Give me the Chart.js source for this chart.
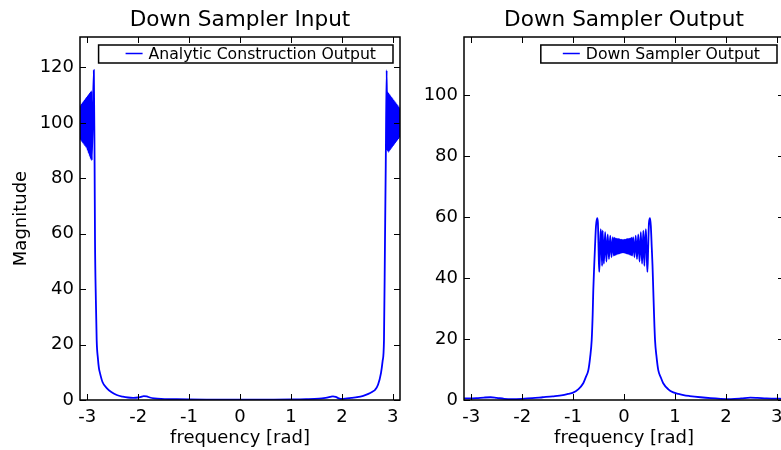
<!DOCTYPE html>
<html><head><meta charset="utf-8">
<script src="https://cdn.jsdelivr.net/npm/chart.js@4.4.1/dist/chart.umd.min.js"></script>
<style>
html,body{margin:0;padding:0;width:781px;height:450px;overflow:hidden;background:#fff;}
canvas{position:absolute;top:0;}
#c1{left:0;}
#c2{left:404px;}
</style></head><body>
<canvas id="c1" width="412" height="450"></canvas>
<canvas id="c2" width="392" height="450"></canvas>
<script>
// ---------- data ----------
const titles = ['Down Sampler Input', 'Down Sampler Output'];
const seriesLabels = ['Analytic Construction Output', 'Down Sampler Output'];
const xTicks = [-3, -2, -1, 0, 1, 2, 3];
const yTicksIn = [0, 20, 40, 60, 80, 100, 120];
const yTicksOut = [0, 20, 40, 60, 80, 100];
const xRange = [-3.1416, 3.1416];
const yMaxIn = 131;
const yMaxOut = 119;

const freqIn = [-3.1416,-3.13,-3.12,-3.11,-3.10,-3.09,-3.08,-3.07,-3.06,-3.05,-3.04,-3.03,-3.02,-3.01,-3.00,-2.99,-2.98,-2.97,-2.96,-2.95,-2.94,-2.93,-2.92,-2.91,
-2.87,-2.855,-2.847,-2.83,-2.814,-2.79,-2.77,-2.749,-2.70,-2.617,-2.52,-2.42,-2.30,-2.20,-2.10,-2.00,-1.95,-1.89,-1.83,-1.77,-1.68,-1.55,-1.30,-1.00,-0.50,0.00,0.50,1.00,1.30,1.55,1.68,1.77,1.826,1.88,1.94,2.00,2.10,2.20,2.30,2.42,2.52,2.60,2.65,2.71,2.768,2.80,2.827,2.847,2.862,2.88,
2.895,2.905,2.915,2.925,2.935,2.945,2.955,2.965,2.975,2.985,2.995,3.005,3.015,3.025,3.035,3.045,3.055,3.065,3.075,3.085,3.095,3.105,3.115,3.125,3.135,3.1416];
const magIn = [106,94,106.5,93.5,107,93,107.5,92.5,108,92,108.5,91.5,109,91,109.5,90,110,89,110.5,88,111,87,111.5,86.5,
119,85,57.7,36,21.6,15,11.5,9.7,6.5,4.3,2.8,1.8,1.2,0.9,0.8,0.9,1.1,1.4,1.3,0.9,0.6,0.4,0.3,0.2,0.15,0.1,0.15,0.2,0.3,0.5,0.8,1.1,1.3,1.1,0.6,0.4,0.6,0.8,1.0,1.5,2.2,3.0,3.6,5.5,9.7,14,21.6,57.7,85,119,
90,111,89.5,110.5,90,110,90.5,109.5,91,109,91.5,108.5,92,108,92.5,107.5,93,107,93.5,106.5,94,106,94.5,105.5,95,104.5];

const freqOut = [-3.1416,-2.9,-2.75,-2.62,-2.5,-2.35,-2.2,-2.0,-1.8,-1.6,-1.4,-1.2,-1.1,-1.0,-0.9,-0.80,-0.75,-0.70,-0.665,-0.634,-0.615,-0.603,-0.585,-0.57,-0.55,-0.526,-0.512,-0.50,-0.487,-0.472,-0.458,-0.443,-0.43,
-0.42,-0.395,-0.37,-0.345,-0.32,-0.295,-0.27,-0.245,-0.22,-0.20,-0.19,-0.18,-0.17,-0.16,-0.15,-0.14,-0.13,-0.12,-0.11,-0.10,-0.09,-0.08,-0.07,-0.06,-0.05,-0.04,-0.03,-0.02,
-0.01,0.00,0.01,0.02,0.03,0.04,0.05,0.06,0.07,0.08,0.09,0.10,0.11,0.12,0.13,0.14,0.15,0.16,0.18,0.205,0.23,0.255,0.28,0.305,0.33,0.355,0.38,
0.40,0.415,0.43,0.445,0.46,0.475,0.49,0.511,0.527,0.545,0.56,0.575,0.59,0.609,0.64,0.673,0.72,0.77,0.87,0.968,1.07,1.17,1.29,1.5,1.7,1.9,2.1,2.3,2.48,2.62,2.8,3.1416];
const magOut = [0.5,0.6,0.8,0.9,0.7,0.4,0.3,0.4,0.6,0.9,1.2,1.6,2.0,2.4,3.5,5.5,7.5,9.8,14,19.7,28,36,44,50,57,59.6,58,50,42,48,56,52,44,
55.5,44.7,55.0,45.4,54.3,46.2,53.9,46.8,53.4,47.3,53.2,47.5,53.0,47.6,52.9,47.8,52.8,47.9,52.8,48.0,52.7,48.1,52.6,48.2,52.6,48.3,52.5,48.4,
52.5,48.3,52.6,48.2,52.6,48.1,52.7,48.0,52.8,47.9,52.8,47.8,52.9,47.6,53.0,47.5,53.2,47.3,53.4,46.8,53.9,46.2,54.3,45.4,55.0,44.7,55.5,
44,52,56,48,42,50,58,59.6,57,50,44,36,28,19.7,14,9.8,7.5,5.5,3.5,2.5,2.0,1.6,1.3,0.9,0.6,0.4,0.3,0.5,0.8,0.7,0.5,0.4];

// ---------- rendering ----------
Chart.defaults.font.family = '"DejaVu Sans", sans-serif';
Chart.defaults.color = '#000';

const decor = {
  id: 'decor',
  afterDraw(chart, args, opts) {
    const ctx = chart.ctx, a = chart.chartArea, sx = chart.scales.x, sy = chart.scales.y;
    ctx.save();
    ctx.strokeStyle = '#000';
    ctx.lineWidth = 1;
    const L = 6;
    ctx.beginPath();
    sx.ticks.forEach(t => {
      const px = Math.round(sx.getPixelForValue(t.value)) + 0.5;
      ctx.moveTo(px, a.bottom); ctx.lineTo(px, a.bottom - L);
      ctx.moveTo(px, a.top); ctx.lineTo(px, a.top + L);
    });
    sy.ticks.forEach(t => {
      const py = Math.round(sy.getPixelForValue(t.value)) + 0.5;
      ctx.moveTo(a.left, py); ctx.lineTo(a.left + L, py);
      ctx.moveTo(a.right, py); ctx.lineTo(a.right - L, py);
    });
    ctx.stroke();
    ctx.lineWidth = 1.5;
    ctx.strokeRect(a.left, a.top, a.right - a.left, a.bottom - a.top);
    // title
    ctx.fillStyle = '#000';
    ctx.font = '21.6px "DejaVu Sans"';
    ctx.textAlign = 'center';
    ctx.textBaseline = 'alphabetic';
    ctx.fillText(opts.title, (a.left + a.right) / 2, 26);
    // legend
    const ds = chart.data.datasets[0];
    ctx.font = '15.7px "DejaVu Sans"';
    const tw = ctx.measureText(ds.label).width;
    const boxR = a.right - 7, boxT = a.top + 8, boxB = a.top + 26;
    const textEnd = boxR - 17, textStart = textEnd - tw;
    const lineR = textStart - 6, lineL = lineR - 17, boxL = lineL - opts.legendLeftPad;
    ctx.fillStyle = '#fff';
    ctx.fillRect(boxL, boxT, boxR - boxL, boxB - boxT);
    ctx.strokeStyle = '#000';
    ctx.lineWidth = 1.5;
    ctx.strokeRect(boxL, boxT, boxR - boxL, boxB - boxT);
    ctx.strokeStyle = ds.borderColor;
    ctx.lineWidth = 1.5;
    ctx.beginPath();
    ctx.moveTo(lineL, boxT + 8.5); ctx.lineTo(lineR, boxT + 8.5);
    ctx.stroke();
    ctx.fillStyle = '#000';
    ctx.textAlign = 'left';
    ctx.fillText(ds.label, textStart, boxT + 14);
    ctx.restore();
  }
};

function makeChart(id, freq, mag, label, title, yTicks, yMax, yAxisW, yTitle, padRight, legendLeftPad) {
  const pts = freq.map((x, i) => ({x: x, y: mag[i]}));
  return new Chart(document.getElementById(id), {
    type: 'scatter',
    data: {datasets: [{
      label: label, data: pts, showLine: true, fill: false,
      borderColor: '#0000ff', borderWidth: 1.8, pointRadius: 0,
      cubicInterpolationMode: 'monotone'
    }]},
    options: {
      responsive: false, animation: false, events: [],
      layout: {padding: {top: 37, left: 0, right: padRight, bottom: 0}},
      plugins: {
        legend: {display: false}, tooltip: {enabled: false}, title: {display: false},
        decor: {title: title, legendLeftPad: legendLeftPad}
      },
      scales: {
        x: {
          type: 'linear', min: xRange[0], max: xRange[1],
          grid: {display: false, drawTicks: false}, border: {display: false},
          afterBuildTicks: s => { s.ticks = xTicks.map(v => ({value: v})); },
          afterFit: s => { s.height = 50; },
          ticks: {font: {size: 18}, padding: 7, autoSkip: false, maxRotation: 0, callback: v => String(v)},
          title: {display: true, text: 'frequency [rad]', font: {size: 18}, padding: {top: 0, bottom: 1}}
        },
        y: {
          type: 'linear', min: 0, max: yMax,
          grid: {display: false, drawTicks: false}, border: {display: false},
          afterBuildTicks: s => { s.ticks = yTicks.map(v => ({value: v})); },
          afterFit: s => { s.width = yAxisW; },
          ticks: {font: {size: 18}, padding: 6, autoSkip: false, callback: v => String(v)},
          title: {display: !!yTitle, text: yTitle || '', font: {size: 18}, padding: {top: 11, bottom: 0}}
        }
      }
    },
    plugins: [decor]
  });
}

makeChart('c1', freqIn, magIn, seriesLabels[0], titles[0], yTicksIn, yMaxIn, 80, 'Magnitude', 12, 27);
makeChart('c2', freqOut, magOut, seriesLabels[1], titles[1], yTicksOut, yMaxOut, 60, '', 12, 22);
</script>
</body></html>
